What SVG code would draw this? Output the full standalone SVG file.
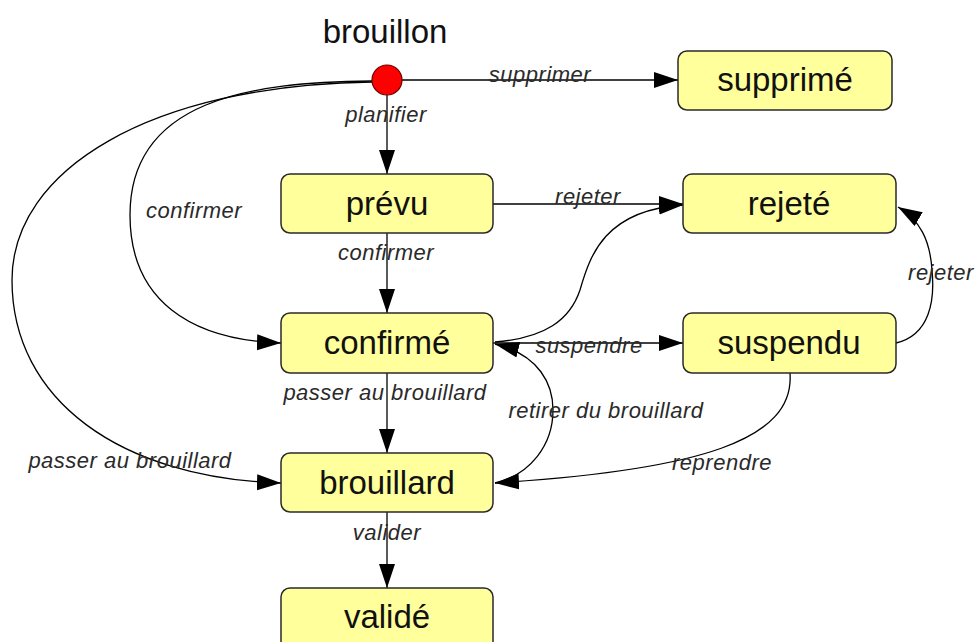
<svg xmlns="http://www.w3.org/2000/svg" width="976" height="642" viewBox="0 0 976 642">
<defs>
<style>
.node rect{fill:#ffff9c;stroke:#2a2a2a;stroke-width:1.5}
.node text{font-family:"Liberation Sans",Arial,sans-serif;font-size:33px;fill:#111;text-anchor:middle}
.edge{fill:none;stroke:#000;stroke-width:1.3}
.lbl{font-family:"Liberation Sans",Arial,sans-serif;font-size:22px;font-style:italic;fill:#2a2a2a;text-anchor:middle;letter-spacing:0.5px}
</style>
<marker id="arr" markerUnits="userSpaceOnUse" markerWidth="26" markerHeight="18" refX="24" refY="8" orient="auto">
<path d="M0,0 L24,8 L0,16 Z" fill="#000"/>
</marker>
</defs>
<rect width="976" height="642" fill="#fff"/>
<g id="connectors">
<path class="edge" d="M402,80 L678,80" marker-end="url(#arr)"/>
<path class="edge" d="M387,95 L387,174" marker-end="url(#arr)"/>
<path class="edge" d="M493,204 L683,204" marker-end="url(#arr)"/>
<path class="edge" d="M387,233 L387,313" marker-end="url(#arr)"/>
<path class="edge" d="M372,81 C250,82 130,100 130,215 C130,300 190,340 281,343" marker-end="url(#arr)"/>
<path class="edge" d="M372,82 C150,85 12,170 12,280 C12,400 120,478 281,483" marker-end="url(#arr)"/>
<path class="edge" d="M387,373 L387,453" marker-end="url(#arr)"/>
<path class="edge" d="M387,512 L387,588" marker-end="url(#arr)"/>
<path class="edge" d="M493,343 L683,343" marker-end="url(#arr)"/>
<path class="edge" d="M495,342 C545,338 570,320 580,290 C590,255 605,210 683,205" marker-end="url(#arr)"/>
<path class="edge" d="M495,483 C530,475 553,445 553,410 C553,385 540,355 495,344" marker-end="url(#arr)"/>
<path class="edge" d="M896,343 C930,335 935,300 932,270 C930,240 920,220 898,207" marker-end="url(#arr)"/>
<path class="edge" d="M790,373 C795,440 700,470 495,483" marker-end="url(#arr)"/>
<text class="lbl" x="540" y="82">supprimer</text>
<text class="lbl" x="386" y="122">planifier</text>
<text class="lbl" x="588" y="204">rejeter</text>
<text class="lbl" x="386" y="260">confirmer</text>
<text class="lbl" x="194" y="218">confirmer</text>
<text class="lbl" x="130" y="468">passer au brouillard</text>
<text class="lbl" x="589" y="353">suspendre</text>
<text class="lbl" x="385" y="400">passer au brouillard</text>
<text class="lbl" x="606" y="418">retirer du brouillard</text>
<text class="lbl" x="941" y="280">rejeter</text>
<text class="lbl" x="722" y="470">reprendre</text>
<text class="lbl" x="387" y="540">valider</text>
</g>
<g id="brouillon">
<circle cx="387" cy="80" r="15" fill="#f00" stroke="#600" stroke-width="1.2"/>
<text x="385" y="43" style="font-family:'Liberation Sans',Arial,sans-serif;font-size:33px;fill:#111;text-anchor:middle">brouillon</text>
</g>
<g id="supprime" class="node"><rect x="678" y="51" width="214" height="59" rx="9"/><text x="785" y="91">supprimé</text></g>
<g id="prevu" class="node"><rect x="281" y="174" width="212" height="59" rx="9"/><text x="387" y="215">prévu</text></g>
<g id="rejete" class="node"><rect x="683" y="174" width="213" height="59" rx="9"/><text x="789" y="215">rejeté</text></g>
<g id="confirme" class="node"><rect x="281" y="313" width="212" height="60" rx="9"/><text x="387" y="354">confirmé</text></g>
<g id="suspendu" class="node"><rect x="683" y="313" width="213" height="60" rx="9"/><text x="789" y="354">suspendu</text></g>
<g id="brouillard" class="node"><rect x="281" y="453" width="212" height="59" rx="9"/><text x="387" y="494">brouillard</text></g>
<g id="valide" class="node"><rect x="281" y="588" width="212" height="62" rx="9"/><text x="387" y="628">validé</text></g>
</svg>
